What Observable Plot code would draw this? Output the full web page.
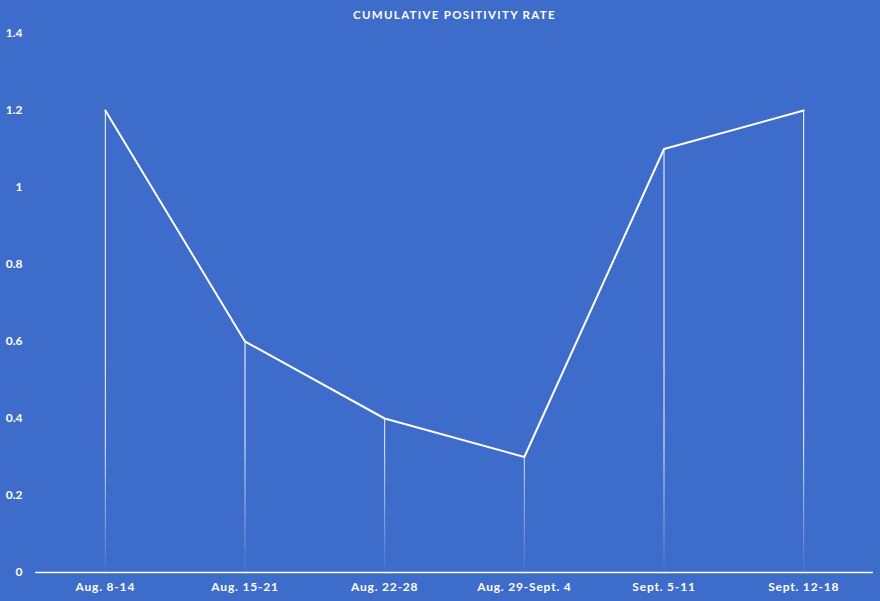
<!DOCTYPE html>
<html>
<head>
<meta charset="utf-8">
<script src="https://cdn.jsdelivr.net/npm/d3@7"></script>
<script src="https://cdn.jsdelivr.net/npm/@observablehq/plot@0.6"></script>
<style>
  html, body { margin: 0; padding: 0; background: #3E6CCB; }
  #chart svg { display: block; }
  #chart svg g[aria-label="x-axis tick label"] text { letter-spacing: 0.8px; }
  #chart svg g[aria-label="text"] text { letter-spacing: 1.3px; }
</style>
</head>
<body>
<div id="chart"></div>
<script>
const title = "CUMULATIVE POSITIVITY RATE";
const weeks = ["Aug. 8-14", "Aug. 15-21", "Aug. 22-28", "Aug. 29-Sept. 4", "Sept. 5-11", "Sept. 12-18"];
const rates = [1.2, 0.6, 0.4, 0.3, 1.1, 1.2];
const yTicks = [0, 0.2, 0.4, 0.6, 0.8, 1, 1.2, 1.4];

const data = weeks.map((w, i) => ({week: w, rate: rates[i]}));
const bg = "#3E6CCB";

const plot = Plot.plot({
  width: 880,
  height: 601,
  marginTop: 33,
  marginBottom: 29,
  marginLeft: 35,
  marginRight: 7,
  style: {background: bg, color: "white", fontFamily: "Lato, 'Open Sans', sans-serif", fontWeight: "bold", fontSize: "11px"},
  x: {type: "point", domain: weeks, padding: 0.5, round: false, label: null},
  y: {domain: [0, 1.4], label: null},
  marks: [
    Plot.axisY({ticks: yTicks, tickSize: 0, tickPadding: 13, tickFormat: d => String(Math.round(d * 10) / 10), fontSize: 12, fontWeight: "bold"}),
    Plot.axisX({tickSize: 0, tickPadding: 10, fontSize: 12, fontWeight: "bold"}),
    Plot.ruleX(data, {x: "week", y1: 0, y2: "rate", stroke: "url(#dropfade)", strokeWidth: 1}),
    Plot.ruleY([0], {stroke: "white", strokeWidth: 1.5}),
    Plot.line(data, {x: "week", y: "rate", stroke: "white", strokeWidth: 2}),
    Plot.text([title], {frameAnchor: "top", dy: -18, lineAnchor: "middle", fill: "white", fontSize: 11.5, fontWeight: "bold"})
  ]
});

// gradient for the drop lines, positioned from the y scale
const ys = plot.scale("y");
const yTop = ys.apply(0.6), yBot = ys.apply(0);
const defs = d3.create("svg:defs");
const grad = defs.append("linearGradient")
  .attr("id", "dropfade")
  .attr("gradientUnits", "userSpaceOnUse")
  .attr("x1", 0).attr("x2", 0)
  .attr("y1", yTop).attr("y2", yBot);
grad.append("stop").attr("offset", "0%").attr("stop-color", "white").attr("stop-opacity", 1);
grad.append("stop").attr("offset", "45%").attr("stop-color", "white").attr("stop-opacity", 0.9);
grad.append("stop").attr("offset", "100%").attr("stop-color", "white").attr("stop-opacity", 0.05);
plot.insertBefore(defs.node(), plot.firstChild);

document.getElementById("chart").append(plot);
</script>
</body>
</html>
